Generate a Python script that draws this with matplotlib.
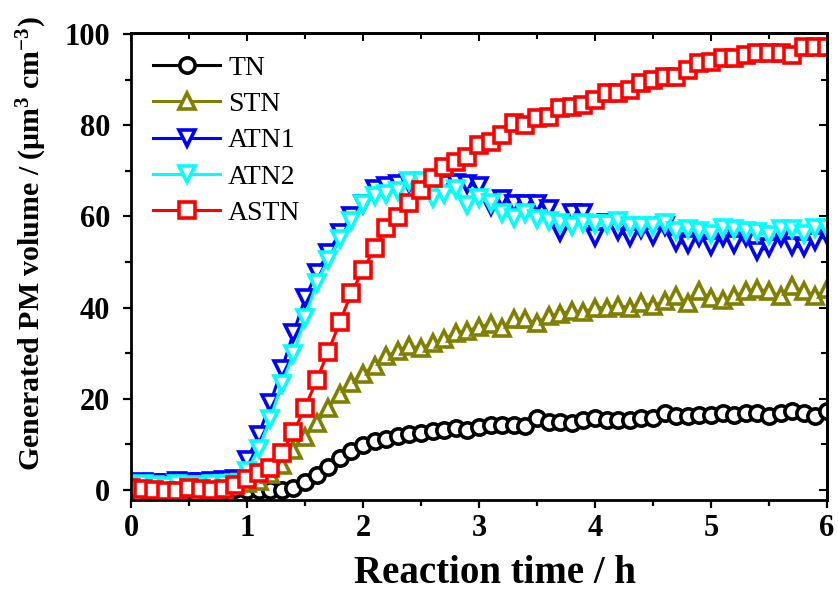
import matplotlib
matplotlib.use("Agg")
import matplotlib.pyplot as plt
from matplotlib.ticker import MultipleLocator

plt.rcParams["font.family"] = ["Liberation Serif", "DejaVu Serif"]
plt.rcParams["mathtext.fontset"] = "custom"
plt.rcParams["mathtext.rm"] = "Liberation Serif:bold"
plt.rcParams["mathtext.bf"] = "Liberation Serif:bold"
plt.rcParams["mathtext.it"] = "Liberation Serif:bold"

# reaction time, h
time_h = [0.0, 0.1, 0.2, 0.3, 0.4, 0.5, 0.6, 0.7, 0.8, 0.9,
          1.0, 1.1, 1.2, 1.3, 1.4, 1.5, 1.6, 1.7, 1.8, 1.9,
          2.0, 2.1, 2.2, 2.3, 2.4, 2.5, 2.6, 2.7, 2.8, 2.9,
          3.0, 3.1, 3.2, 3.3, 3.4, 3.5, 3.6, 3.7, 3.8, 3.9,
          4.0, 4.1, 4.2, 4.3, 4.4, 4.5, 4.6, 4.7, 4.8, 4.9,
          5.0, 5.1, 5.2, 5.3, 5.4, 5.5, 5.6, 5.7, 5.8, 5.9, 6.0]

tn = [0.3, 0.2, 0.1, 0.2, 0.0, 0.1, 0.2, 0.1, 0.0, 0.1,
      0.0, -0.1, 0.0, 0.0, 0.5, 1.8, 3.3, 5.0, 7.0, 8.6,
      9.9, 10.8, 11.2, 11.8, 12.3, 12.5, 13.0, 13.2, 13.5, 13.2,
      13.9, 14.2, 14.3, 14.3, 14.0, 15.8, 15.0, 15.0, 14.6, 15.4,
      15.8, 15.4, 15.4, 15.4, 15.8, 15.8, 16.9, 16.2, 16.2, 16.5,
      16.5, 16.9, 16.5, 16.9, 16.9, 16.2, 16.9, 17.4, 16.9, 16.2, 17.3]

stn = [1.0, 1.3, 1.1, 0.9, 1.2, 1.0, 1.4, 1.6, 1.3, 1.2,
       1.5, 2.0, 3.5, 5.5, 8.8, 11.6, 14.7, 18.0, 21.0, 23.5,
       25.5, 27.2, 29.4, 30.5, 31.6, 31.1, 32.2, 33.1, 34.4, 34.9,
       35.8, 36.4, 35.5, 37.5, 37.5, 36.6, 38.2, 38.6, 39.3, 39.0,
       40.0, 40.0, 40.4, 40.0, 41.0, 40.4, 41.4, 42.5, 41.0, 43.6,
       42.1, 41.7, 42.5, 43.6, 44.0, 43.6, 42.5, 44.7, 43.6, 42.5, 44.0]

atn1 = [1.5, 1.8, 1.6, 1.5, 2.0, 1.8, 1.7, 1.9, 2.2, 2.5,
        6.5, 12.0, 19.0, 26.5, 34.4, 42.0, 47.6, 52.0, 56.4, 60.0,
        62.7, 66.0, 66.7, 67.0, 67.3, 66.5, 66.0, 67.0, 67.3, 67.0,
        66.7, 62.3, 63.8, 62.7, 62.7, 62.7, 61.6, 56.6, 60.7, 60.7,
        55.5, 58.5, 56.8, 55.5, 57.2, 55.7, 57.9, 54.4, 54.0, 55.5,
        53.5, 55.5, 54.0, 55.5, 52.4, 53.3, 55.5, 53.5, 53.3, 54.6, 56.0]

atn2 = [1.0, 1.2, 1.1, 0.9, 1.3, 1.1, 1.0, 1.2, 1.3, 1.5,
        4.2, 9.0, 15.6, 23.2, 29.8, 37.7, 45.4, 50.5, 55.0, 59.0,
        62.7, 64.5, 65.0, 65.6, 67.8, 67.8, 64.0, 65.0, 66.0, 62.5,
        64.0, 63.0, 60.7, 59.6, 60.7, 59.4, 59.0, 58.6, 57.9, 58.6,
        58.3, 58.3, 59.0, 57.9, 57.9, 57.9, 58.6, 56.8, 57.2, 56.8,
        56.1, 57.5, 57.2, 56.8, 56.5, 56.0, 57.2, 57.2, 56.1, 57.5, 57.5]

astn = [0.5, 0.3, 0.0, -0.3, -0.2, 0.4, 0.2, -0.1, 0.3, 1.0,
        2.5, 3.7, 4.8, 8.1, 12.7, 18.0, 24.1, 30.3, 36.8, 43.2,
        48.2, 53.0, 57.5, 59.9, 62.9, 65.8, 68.5, 70.8, 71.9, 73.0,
        75.7, 76.3, 77.9, 80.5, 80.0, 81.6, 81.8, 83.8, 84.0, 84.4,
        85.5, 87.0, 87.0, 87.7, 89.3, 90.0, 90.6, 90.6, 92.1, 93.6,
        93.9, 94.7, 94.7, 95.4, 95.8, 95.8, 95.8, 95.4, 97.1, 97.1, 97.1]

series = [
    ("TN", tn, "black", "o"),
    ("STN", stn, "#808000", "^"),
    ("ATN1", atn1, "#0000FF", "v"),
    ("ATN2", atn2, "#00FFFF", "v"),
    ("ASTN", astn, "#FF0000", "s"),
]

fig = plt.figure(figsize=(8.38, 5.91), dpi=100)
ax = fig.add_axes([0.1563, 0.154, 0.8306, 0.79])

for label, vals, color, marker in series:
    ax.plot(time_h, vals, color=color, lw=2.2, marker=marker, ms=11,
            mfc="white", mec=color, mew=2.6, label=label)

ax.set_xlim(0, 6)
ax.set_ylim(-2.2, 100.2)
ax.xaxis.set_major_locator(MultipleLocator(1))
ax.xaxis.set_minor_locator(MultipleLocator(0.5))
ax.yaxis.set_major_locator(MultipleLocator(20))
ax.yaxis.set_minor_locator(MultipleLocator(10))
ax.tick_params(which="both", direction="out", width=1.6, labelsize=22)
ax.tick_params(axis="x", pad=4)
ax.tick_params(axis="y", pad=9)
ax.tick_params(which="major", length=6)
ax.tick_params(which="minor", length=4)
for lab in ax.get_xticklabels() + ax.get_yticklabels():
    lab.set_fontweight("bold")

top = ax.secondary_xaxis("top")
top.xaxis.set_major_locator(MultipleLocator(1))
top.xaxis.set_minor_locator(MultipleLocator(0.5))
top.tick_params(which="both", direction="in", width=1.5, labeltop=False)
top.tick_params(which="major", length=6)
top.tick_params(which="minor", length=4)
right = ax.secondary_yaxis("right")
right.yaxis.set_major_locator(MultipleLocator(20))
right.yaxis.set_minor_locator(MultipleLocator(10))
right.tick_params(which="both", direction="in", width=1.5, labelright=False)
right.tick_params(which="major", length=6)
right.tick_params(which="minor", length=4)

for sp in list(ax.spines.values()) + [top.spines["top"], right.spines["right"]]:
    sp.set_linewidth(2.0)

ax.set_xlabel("Reaction time / h", fontsize=28, fontweight="bold")
ax.xaxis.set_label_coords(0.523, -0.118)
ax.set_ylabel(r"Generated PM volume / (μm$^{3}$ cm$^{-3}$)",
              fontsize=21.5, fontweight="bold")
ax.yaxis.set_label_coords(-0.118, 0.55)

ax.legend(loc="upper left", bbox_to_anchor=(0.0, 1.0), frameon=False,
          fontsize=20, handlelength=2.4, labelspacing=0.39, handletextpad=0.3,
          borderaxespad=0.4)

fig.savefig("out.png", dpi=100)
